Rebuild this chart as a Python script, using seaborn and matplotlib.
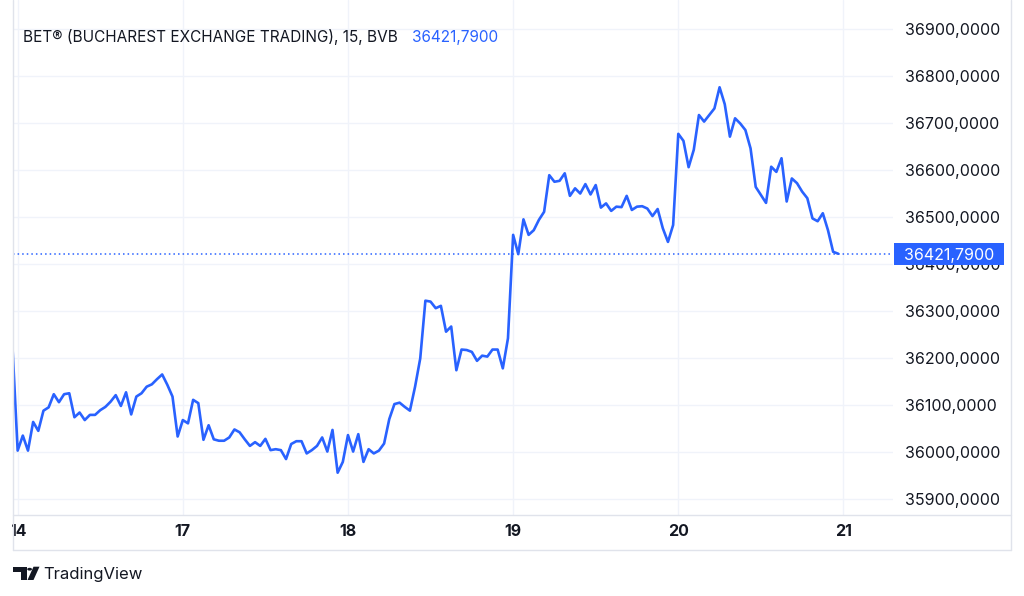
import numpy as np
import pandas as pd
import matplotlib
matplotlib.use("Agg")
import matplotlib.pyplot as plt
import matplotlib.transforms as mtransforms
from matplotlib.patches import Rectangle, Polygon, Circle
from matplotlib.lines import Line2D
import seaborn as sns

# ---------------- data (15-minute closes) ----------------
prev_bar = [36223]
day14 = [36003, 36035, 36003, 36064, 36045, 36088, 36095, 36123, 36106, 36123, 36125, 36074,
         36084, 36068, 36079, 36079, 36089, 36096, 36107, 36121, 36098, 36127, 36080, 36118,
         36125, 36139, 36144, 36155, 36165, 36143, 36118, 36033]
day17 = [36068, 36061, 36111, 36104, 36026, 36057, 36027, 36024, 36024, 36031, 36048, 36042,
         36027, 36013, 36021, 36013, 36028, 36004, 36006, 36004, 35985, 36017, 36023, 36023,
         35997, 36004, 36013, 36031, 36001, 36047, 35956, 35979]
day18 = [36036, 36001, 36038, 35979, 36006, 35997, 36003, 36018, 36070, 36102, 36105, 36096,
         36088, 36139, 36199, 36322, 36320, 36306, 36311, 36256, 36267, 36174, 36218, 36217,
         36213, 36194, 36205, 36203, 36218, 36218, 36178, 36242]
day19 = [36462, 36421, 36495, 36462, 36472, 36494, 36511, 36589, 36575, 36577, 36593, 36545,
         36561, 36550, 36570, 36548, 36568, 36520, 36529, 36513, 36522, 36521, 36545, 36515,
         36522, 36523, 36518, 36502, 36517, 36476, 36447, 36483]
day20 = [36677, 36662, 36606, 36643, 36717, 36703, 36717, 36731, 36776, 36740, 36671, 36710,
         36699, 36685, 36646, 36564, 36547, 36530, 36607, 36596, 36625, 36533, 36582, 36572,
         36554, 36540, 36497, 36491, 36508, 36472, 36426, 36421.79]
day_labels = ["14", "17", "18", "19", "20", "21"]
bars_per_day = 32
price_ticks = [35900, 36000, 36100, 36200, 36300, 36400, 36500, 36600, 36700, 36800, 36900]
title = "BET® (BUCHAREST EXCHANGE TRADING), 15, BVB"
last_price = 36421.79

closes = prev_bar + day14 + day17 + day18 + day19 + day20
df = pd.DataFrame({"bar": np.arange(len(closes)), "close": closes})
day_starts = [1 + i * bars_per_day for i in range(len(day_labels))]

def fmt(v):
    return f"{v:.4f}".replace(".", ",")

# ---------------- style ----------------
sns.set_theme(style="white")
plt.rcParams["font.family"] = ["Inter", "DejaVu Sans"]

W, H = 1024, 596
BLUE = "#2962FF"
TXT = "#131722"
GRID = "#f0f3fa"
BORDER = "#e0e3eb"

fig = plt.figure(figsize=(W / 100, H / 100), dpi=100)
fig.patch.set_facecolor("white")

pane_l, pane_r, pane_b, pane_t = 12.7, 893, 515, 0
ax = fig.add_axes([pane_l / W, 1 - pane_b / H, (pane_r - pane_l) / W, (pane_b - pane_t) / H])
ax.set_facecolor("white")

sns.lineplot(data=df, x="bar", y="close", ax=ax, color=BLUE, linewidth=1.9, zorder=3)

ax.set_xlim(0.04, 170.6)
ax.set_ylim(35866, 36961.7)

ax.set_xticks(day_starts)
ax.set_xticklabels(day_labels, fontweight="bold", fontsize=11.5, color=TXT)
ax.set_yticks(price_ticks)
ax.set_yticklabels([fmt(v) for v in price_ticks], fontsize=11.5, color=TXT)
ax.yaxis.tick_right()
ax.tick_params(axis="y", length=0, pad=8.6)
ax.tick_params(axis="x", length=0, pad=6.5)
ax.set_xlabel("")
ax.set_ylabel("")
ax.grid(True, color=GRID, linewidth=1.0, zorder=0)
for s in ax.spines.values():
    s.set_visible(False)

# last price dotted line
ax.axhline(last_price, color=BLUE, linestyle=(0, (1, 2)), linewidth=1.1, zorder=2)

# price label on the scale (covers the 36400 label, as in the original)
blend = mtransforms.blended_transform_factory(fig.transFigure, ax.transData)
half_h = 11 / ((515) / (36961.7 - 35866))
box = Rectangle((894 / W, last_price - half_h), 110 / W, 2 * half_h, transform=blend,
                facecolor=BLUE, edgecolor="none", clip_on=False, zorder=10)
fig.add_artist(box)
fig.text(949 / W, last_price, fmt(last_price), transform=blend, fontsize=11.5, color="white",
         ha="center", va="center_baseline", zorder=11)

# borders
def fx(x):
    return x / W

def fy(y):
    return 1 - y / H

for (x0, y0, x1, y1) in [(12.7, 0, 12.7, 550), (12.7, 515, 1010.7, 515),
                         (12.7, 550, 1010.7, 550), (1010.7, 0, 1010.7, 550)]:
    fig.add_artist(Line2D([fx(x0), fx(x1)], [fy(y0), fy(y1)], transform=fig.transFigure,
                          color=BORDER, linewidth=1.0, zorder=12))
# hide the part of the first day label outside the pane
fig.add_artist(Rectangle((0, fy(550)), fx(12.2), fy(515) - fy(550), transform=fig.transFigure,
                         facecolor="white", edgecolor="none", zorder=11))

# header
fig.text(fx(23), fy(41.7), title, fontsize=11.05, color=TXT, ha="left", va="baseline")
fig.text(fx(412), fy(41.7), fmt(last_price), fontsize=11.05, color=BLUE, ha="left", va="baseline")

# TradingView logo
fig.add_artist(Polygon([(fx(12.7), fy(566.7)), (fx(26.7), fy(566.7)), (fx(26.7), fy(580)),
                        (fx(20.7), fy(580)), (fx(20.7), fy(571.7)), (fx(12.7), fy(571.7))],
                       closed=True, transform=fig.transFigure, facecolor=TXT, edgecolor="none"))
fig.add_artist(Circle((fx(29.6), fy(569.2)), 2.4 / W, transform=fig.transFigure,
                      facecolor=TXT, edgecolor="none"))
fig.add_artist(Polygon([(fx(27.5), fy(580)), (fx(33.5), fy(580)), (fx(39.5), fy(566.7)),
                        (fx(33.5), fy(566.7))], closed=True, transform=fig.transFigure,
                       facecolor=TXT, edgecolor="none"))
fig.text(fx(43), fy(579.5), "TradingView", fontsize=12, color=TXT, ha="left", va="baseline")

fig.savefig("out.png", dpi=100, facecolor="white")
